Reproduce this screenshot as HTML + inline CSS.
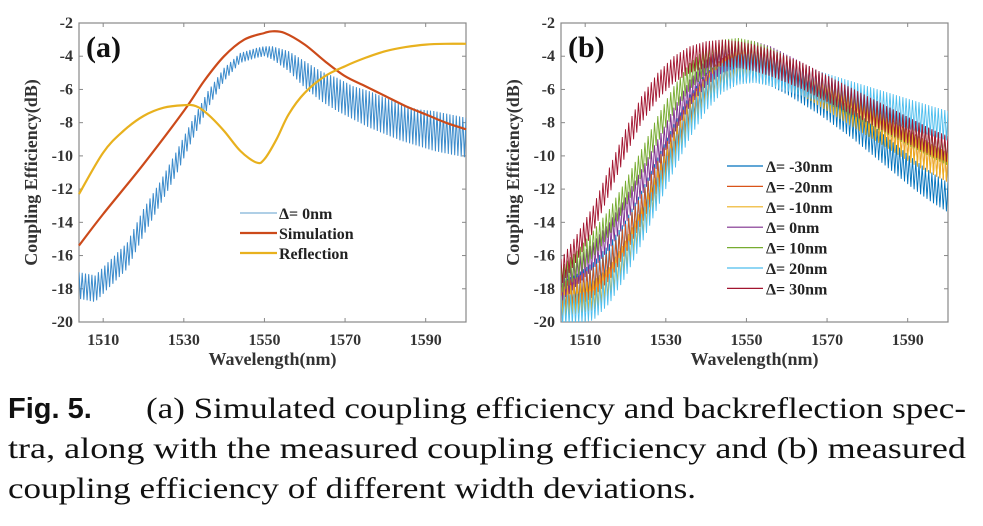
<!DOCTYPE html>
<html><head><meta charset="utf-8">
<style>
body{margin:0;background:#fff;}
svg text{font-family:"Liberation Serif",serif;font-weight:bold;}
</style></head>
<body>
<svg id="fig" width="983" height="521" viewBox="0 0 983 521" xmlns="http://www.w3.org/2000/svg">
<g id="pa"></g>
<g id="pb"></g>
<text x="8" y="418" style="font-family:'Liberation Sans',sans-serif;font-weight:bold;font-size:29px" fill="#111">Fig. 5.</text>
<text x="146" y="418" style="font-weight:normal;font-size:30px" fill="#111" textLength="820" lengthAdjust="spacingAndGlyphs">(a) Simulated coupling efficiency and backreflection spec-</text>
<text x="8" y="458" style="font-weight:normal;font-size:30px" fill="#111" textLength="958" lengthAdjust="spacingAndGlyphs">tra, along with the measured coupling efficiency and (b) measured</text>
<text x="8" y="498" style="font-weight:normal;font-size:30px" fill="#111" textLength="688" lengthAdjust="spacingAndGlyphs">coupling efficiency of different width deviations.</text>
</svg>
<script>
const NS="http://www.w3.org/2000/svg";
// ---- data ----
const xTicks=[1510,1530,1550,1570,1590];
const yTicks=[-2,-4,-6,-8,-10,-12,-14,-16,-18,-20];
// panel (a)
const measX=[1504,1508,1512,1516,1520,1524,1528,1532,1536,1540,1544,1548,1550,1552,1556,1560,1564,1568,1572,1576,1580,1584,1588,1592,1596,1600];
const measMid=[-17.8,-18,-17,-16,-14,-12.3,-10.5,-8.5,-6.6,-5.1,-4.1,-3.8,-3.7,-3.8,-4.3,-5.1,-5.8,-6.3,-6.8,-7.2,-7.6,-8,-8.3,-8.5,-8.7,-8.9];
const measAmp=[0.8,0.8,0.8,0.8,0.8,0.7,0.7,0.6,0.5,0.4,0.3,0.3,0.3,0.4,0.6,0.8,0.9,1,1,1.1,1.1,1.1,1.1,1.2,1.2,1.2];
const simX=[1504,1510,1520,1530,1535,1540,1545,1550,1552,1555,1560,1565,1570,1575,1580,1585,1590,1595,1600];
const simY=[-15.4,-13.5,-10.5,-7.3,-5.5,-4,-3,-2.6,-2.5,-2.6,-3.3,-4.3,-5.2,-5.8,-6.4,-7,-7.5,-8,-8.4];
const refX=[1504,1510,1515,1520,1525,1530,1533,1536,1540,1544,1548,1550,1553,1556,1560,1565,1570,1575,1580,1585,1590,1595,1600];
const refY=[-12.3,-9.8,-8.5,-7.6,-7.1,-6.95,-7,-7.5,-8.5,-9.7,-10.4,-10.2,-9,-7.5,-6.2,-5.2,-4.6,-4.1,-3.7,-3.45,-3.3,-3.25,-3.25];
// panel (b)
const bX=[1504,1508,1512,1516,1520,1524,1528,1532,1536,1540,1544,1548,1552,1556,1560,1564,1568,1572,1576,1580,1584,1588,1592,1596,1600];
const bLabels=["Δ= -30nm","Δ= -20nm","Δ= -10nm","Δ=  0nm","Δ=  10nm","Δ=  20nm","Δ=  30nm"];
const bColors=["#0072BD","#D95319","#EDB120","#7E2F8E","#77AC30","#4DBEEE","#A2142F"];
const bM30=[-18.5,-18,-17.3,-16.2,-14.8,-13,-11,-9,-7.2,-5.9,-5.1,-4.7,-4.6,-4.9,-5.4,-6,-6.6,-7.3,-8,-8.8,-9.6,-10.4,-11.2,-11.9,-12.5];
const bM20=[-18.5,-18.2,-17.6,-16.6,-15,-13.2,-11.2,-9.2,-7.4,-6,-5,-4.4,-4.2,-4.4,-4.9,-5.4,-6,-6.6,-7.2,-7.8,-8.4,-9,-9.6,-10.2,-10.7];
const bM10=[-18.8,-18.6,-18.4,-17.6,-16,-14,-11.8,-9.6,-7.6,-6.1,-5.1,-4.5,-4.3,-4.5,-5,-5.5,-6.1,-6.7,-7.3,-7.9,-8.5,-9.1,-9.7,-10.2,-10.7];
const b0=[-18,-17,-16,-14.8,-13.3,-11.6,-9.8,-7.9,-6.2,-5,-4.2,-3.9,-3.9,-4.2,-4.7,-5.2,-5.7,-6.2,-6.7,-7.2,-7.7,-8.2,-8.7,-9.2,-9.7];
const bP10=[-17.5,-16.5,-15.3,-14,-12.3,-10.4,-8.4,-6.6,-5.2,-4.3,-3.8,-3.7,-3.9,-4.3,-4.8,-5.3,-5.8,-6.3,-6.8,-7.3,-7.8,-8.3,-8.8,-9.3,-9.8];
const bP20=[-19.3,-19.2,-19,-18,-16.4,-14.4,-12.2,-10,-8,-6.4,-5.3,-4.8,-4.7,-4.9,-5.2,-5.5,-5.8,-6.1,-6.4,-6.7,-7,-7.3,-7.6,-7.9,-8.2];
const bP30=[-17,-15.5,-13.8,-11.5,-9.2,-7.2,-5.8,-4.8,-4.2,-3.9,-3.8,-3.9,-4.1,-4.4,-4.8,-5.2,-5.7,-6.2,-6.7,-7.2,-7.7,-8.2,-8.7,-9.2,-9.6];
const bSeries=[bM30,bM20,bM10,b0,bP10,bP20,bP30];
const bAmp=[0.9,0.9,0.9,0.8,0.8,0.9,0.8];

// ---- helpers ----
const X0=1504,X1=1600,Y0=-20,Y1=-2;
function mk(tag,attrs,parent){const e=document.createElementNS(NS,tag);for(const k in attrs)e.setAttribute(k,attrs[k]);parent.appendChild(e);return e;}
function lerp(xs,ys,x){if(x<=xs[0])return ys[0];for(let i=1;i<xs.length;i++){if(x<=xs[i]){const t=(x-xs[i-1])/(xs[i]-xs[i-1]);return ys[i-1]+t*(ys[i]-ys[i-1]);}}return ys[ys.length-1];}
function makeAxes(g,left,label){
  const L=left,R=left+387,T=23,B=322;
  const sx=v=>L+(v-X0)/(X1-X0)*(R-L), sy=v=>B-(v-Y0)/(Y1-Y0)*(B-T);
  const box=mk('rect',{x:L,y:T,width:R-L,height:B-T,fill:'none',stroke:'#888','stroke-width':1.2},g);
  
  
  xTicks.forEach(v=>{
    mk('line',{x1:sx(v),x2:sx(v),y1:B,y2:B-4,stroke:'#888'},g);
    mk('line',{x1:sx(v),x2:sx(v),y1:T,y2:T+4,stroke:'#888'},g);
    const t=mk('text',{x:sx(v),y:345,'text-anchor':'middle','font-size':16,fill:'#333'},g);t.textContent=v;
    
    
  });
  yTicks.forEach(v=>{
    mk('line',{x1:L,x2:L+4,y1:sy(v),y2:sy(v),stroke:'#888'},g);
    mk('line',{x1:R,x2:R-4,y1:sy(v),y2:sy(v),stroke:'#888'},g);
    const t=mk('text',{x:L-6,y:sy(v)+5,'text-anchor':'end','font-size':16,fill:'#333'},g);t.textContent=v;
    
    
  });
  const xt=mk('text',{x:(L+R)/2,y:365,'text-anchor':'middle','font-size':18,fill:'#333'},g);xt.textContent='Wavelength(nm)';
  
  
  const yt=mk('text',{x:0,y:0,'text-anchor':'middle','font-size':18,fill:'#333',transform:`translate(${L-42},${(T+B)/2}) rotate(-90)`},g);yt.textContent='Coupling Efficiency(dB)';
  
  
  const pl=mk('text',{x:L+7,y:57,'font-size':30,fill:'#111'},g);pl.textContent=label;
  
  
  return {sx,sy,L,R,T,B};
}
function smoothPath(ax,xs,ys){
  const P=xs.map((x,i)=>[ax.sx(x),ax.sy(ys[i])]);
  let d='M'+P[0][0].toFixed(1)+','+P[0][1].toFixed(1);
  for(let i=0;i<P.length-1;i++){
    const p0=P[Math.max(i-1,0)],p1=P[i],p2=P[i+1],p3=P[Math.min(i+2,P.length-1)];
    const c1=[p1[0]+(p2[0]-p0[0])/6,p1[1]+(p2[1]-p0[1])/6],c2=[p2[0]-(p3[0]-p1[0])/6,p2[1]-(p3[1]-p1[1])/6];
    d+='C'+c1[0].toFixed(1)+','+c1[1].toFixed(1)+' '+c2[0].toFixed(1)+','+c2[1].toFixed(1)+' '+p2[0].toFixed(1)+','+p2[1].toFixed(1);
  }
  return d;
}
function ripplePath(ax,xs,mids,amps){let d='';let k=0;for(let x=X0;x<=X1+1e-6;x+=0.4,k++){const m=lerp(xs,mids,x),a=Array.isArray(amps)?lerp(xs,amps,x):amps;const v=m+(k%2?-a:a);d+=(k?'L':'M')+ax.sx(x).toFixed(1)+','+ax.sy(v).toFixed(1);}return d;}

// ---- panel a ----
const ga=document.getElementById('pa');
const A=makeAxes(ga,79,'(a)');
const clipA=mk('clipPath',{id:'ca'},ga);mk('rect',{x:A.L,y:A.T,width:A.R-A.L,height:A.B-A.T},clipA);
const m=mk('path',{d:ripplePath(A,measX,measMid,measAmp),fill:'none',stroke:'#3d8ccc','stroke-width':1,'clip-path':'url(#ca)'},ga);


const s=mk('path',{d:smoothPath(A,simX,simY),fill:'none',stroke:'#cc4a1a','stroke-width':2.2},ga);


const r=mk('path',{d:smoothPath(A,refX,refY),fill:'none',stroke:'#e8b11e','stroke-width':2.2},ga);


[['Δ= 0nm','#7fb2d8',1.2],['Simulation','#cc4a1a',2.2],['Reflection','#e8b11e',2.2]].forEach((e,i)=>{
  const y=213+i*20;
  const lg=mk('g',{},ga);
  
  
  mk('line',{x1:240,x2:277,y1:y,y2:y,stroke:e[1],'stroke-width':e[2]},lg);
  const t=mk('text',{x:279,y:y+6,'font-size':16,fill:'#222'},lg);t.textContent=e[0];
});

// ---- panel b ----
const gb=document.getElementById('pb');
const Bx=makeAxes(gb,561,'(b)');
const clipB=mk('clipPath',{id:'cb'},gb);mk('rect',{x:Bx.L,y:Bx.T,width:Bx.R-Bx.L,height:Bx.B-Bx.T},clipB);
bSeries.forEach((ser,i)=>{
  const p=mk('path',{d:ripplePath(Bx,bX,ser,bAmp[i]),fill:'none',stroke:bColors[i],'stroke-width':0.9,'clip-path':'url(#cb)'},gb);
  
  
});
mk('rect',{x:722,y:155,width:125,height:142,fill:'#fff','fill-opacity':0.6},gb);
bLabels.forEach((lab,i)=>{
  const y=166+i*20.4;
  const lg=mk('g',{},gb);
  
  
  mk('line',{x1:727,x2:763,y1:y,y2:y,stroke:bColors[i],'stroke-width':1.2},lg);
  const t=mk('text',{x:766,y:y+6,'font-size':16,fill:'#222','xml:space':'preserve'},lg);t.textContent=lab;
});
</script>
</body></html>
